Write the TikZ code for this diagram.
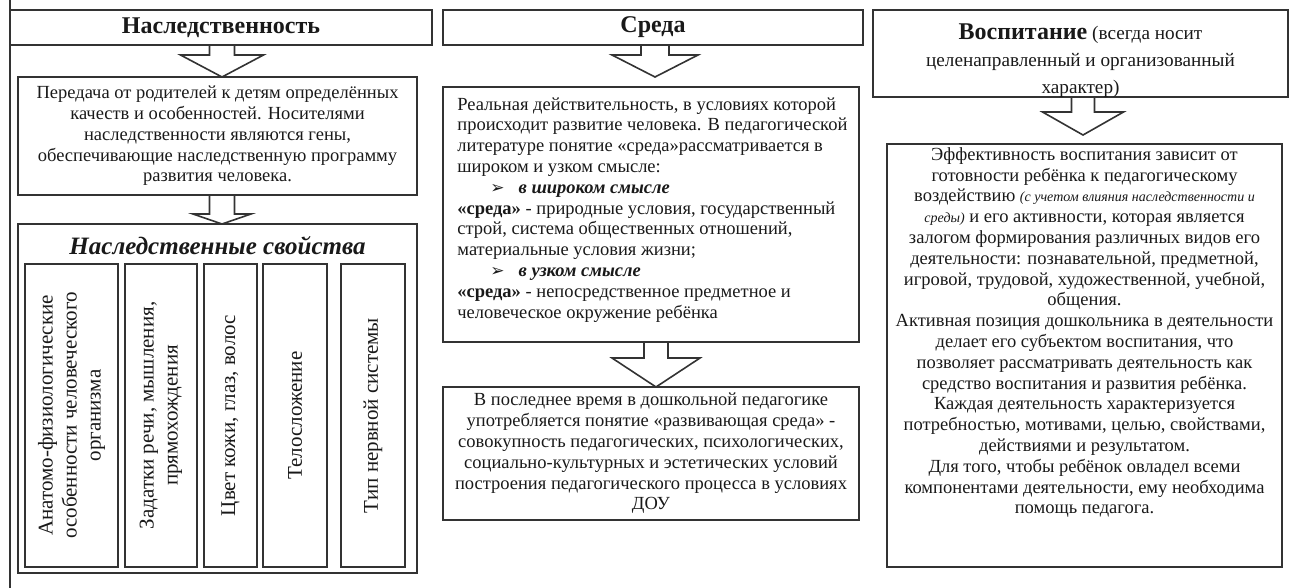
\documentclass[tikz,border=0pt]{standalone}
\usepackage{fontspec}
\setmainfont{Liberation Serif}
\newfontfamily\symfont{DejaVu Sans}
\usetikzlibrary{calc, positioning}
\newcommand{\txtfont}{\fontsize{18.5}{20.8}\selectfont}
\newcommand{\headfont}{\fontsize{24}{27}\selectfont\bfseries}
\newcommand{\subfont}{\fontsize{19.2}{27}\selectfont}
\newcommand{\colfont}{\fontsize{21}{24}\selectfont}
\newcommand{\notefont}{\fontsize{14}{20.8}\selectfont\itshape}
\newcommand{\bulletmark}{\hspace*{33pt}{\symfont\fontsize{17}{17}\selectfont ➢}\hspace{14pt}}
\tikzset{
    box/.style={draw=black!80, line width=1.6pt, rectangle, inner sep=0pt, text=black!90},
    colbox/.style={box, line width=1.3pt, rotate=90, align=center, font=\colfont},
    plaintext/.style={inner sep=0pt, text=black!90, font=\txtfont},
    arrowline/.style={draw=black!80, line width=1.6pt, line join=miter}
}
% start node, tip, shaft half width, head half width, head height
\newcommand{\hollowarrow}[5]{%
    \draw[arrowline] ($(#1 -| #2)+(-#3,0)$) -- ($(#2)+(-#3,-#5)$) -- ($(#2)+(-#4,-#5)$) -- (#2)
        -- ($(#2)+(#4,-#5)$) -- ($(#2)+(#3,-#5)$) -- ($(#1 -| #2)+(#3,0)$);
}
\begin{document}
\begin{tikzpicture}[x=1pt, y=-1pt]
    \useasboundingbox (0,0) rectangle (1290,588);
    % page rule
    \draw[black!80, line width=1.6pt] (10,0) -- (10,588);

    % heredity
    \node[box, minimum width=422pt, minimum height=35pt, font=\headfont] (hered) at (221,27.5) {Наследственность};
    \node[box, minimum width=399pt, minimum height=118pt, align=center, font=\txtfont] (heredtext) at (217.5,136)
        {Передача от родителей к детям определённых\\качеств  и особенностей. Носителями\\наследственности являются гены,\\обеспечивающие наследственную программу\\развития человека.};
    \node[box, minimum width=399pt, minimum height=349pt] (heredprops) at (217.5,398.5) {};
    \node[plaintext, font=\fontsize{25}{28}\selectfont\bfseries\itshape] (propstitle) at (217.5,246) {Наследственные свойства};
    \node[colbox, minimum width=303pt, minimum height=93pt] (prop1) at (71.5,415.5)
        {Анатомо-физиологические\\особенности человеческого\\организма};
    \node[colbox, minimum width=303pt, minimum height=72pt] (prop2) at (161,415.5)
        {Задатки речи, мышления,\\прямохождения};
    \node[colbox, minimum width=303pt, minimum height=53pt] (prop3) at (230.5,415.5) {Цвет кожи, глаз, волос};
    \node[colbox, minimum width=303pt, minimum height=64pt] (prop4) at (295,415.5) {Телосложение};
    \node[colbox, minimum width=303pt, minimum height=64pt] (prop5) at (373,415.5) {Тип нервной системы};
    \coordinate (tipA) at (222,77);
    \coordinate (tipB) at (222,224);
    \hollowarrow{hered.south}{tipA}{12.5}{41.5}{22}
    \hollowarrow{heredtext.south}{tipB}{12.5}{29}{10}

    % environment
    \node[box, minimum width=420pt, minimum height=35pt, font=\headfont] (env) at (653,27.5) {Среда};
    \node[box, minimum width=416pt, minimum height=255pt] (envtext) at (651,214.5) {};
    \node[plaintext, anchor=north west, align=left] (envwords) at ($(envtext.north west)+(15,11)$)
        {Реальная действительность, в условиях которой\\
         происходит развитие человека. В педагогической\\
         литературе понятие «среда»рассматривается в\\
         широком и узком смысле:\\
         \bulletmark\textbf{\textit{в широком смысле}}\\
         \textbf{«среда»} - природные условия, государственный\\
         строй, система общественных отношений,\\
         материальные условия жизни;\\
         \bulletmark\textbf{\textit{в узком смысле}}\\
         \textbf{«среда»} - непосредственное предметное и\\
         человеческое окружение ребёнка};
    \node[box, minimum width=416pt, minimum height=133pt, align=center, font=\txtfont] (envdev) at (651,453.5)
        {В последнее время в дошкольной педагогике\\употребляется понятие «развивающая среда» -\\совокупность педагогических, психологических,\\социально-культурных и эстетических  условий\\построения педагогического процесса в условиях\\ДОУ};
    \coordinate (tipC) at (655,77);
    \coordinate (tipD) at (656,387);
    \hollowarrow{env.south}{tipC}{14}{43}{22}
    \hollowarrow{envtext.south}{tipD}{12}{44}{29}

    % upbringing
    \node[box, minimum width=415pt, minimum height=87pt] (edu) at (1080.5,53.5) {};
    \node[plaintext, align=center, font=\subfont] (eduhead) at ($(edu.center)+(0,7)$)
        {{\headfont Воспитание} (всегда носит\\целенаправленный и организованный\\характер)};
    \node[box, minimum width=395pt, minimum height=423pt] (edubox) at (1084.5,355.5) {};
    \node[plaintext, anchor=north, align=center] (eduwords) at ($(edubox.north)+(0,4)$)
        {Эффективность воспитания зависит от\\
         готовности ребёнка к педагогическому\\
         воздействию {\notefont (с учетом влияния наследственности и}\\
         {\notefont среды)} и его активности, которая является\\
         залогом формирования различных видов его\\
         деятельности: познавательной, предметной,\\
         игровой, трудовой, художественной, учебной,\\
         общения.\\
         Активная позиция дошкольника в деятельности\\
         делает его субъектом воспитания, что\\
         позволяет рассматривать деятельность как\\
         средство воспитания и развития ребёнка.\\
         Каждая деятельность характеризуется\\
         потребностью, мотивами, целью, свойствами,\\
         действиями и результатом.\\
         Для того, чтобы ребёнок овладел всеми\\
         компонентами деятельности, ему необходима\\
         помощь педагога.};
    \coordinate (tipE) at (1083,135);
    \hollowarrow{edu.south}{tipE}{11.5}{40.5}{23}
\end{tikzpicture}
\end{document}
